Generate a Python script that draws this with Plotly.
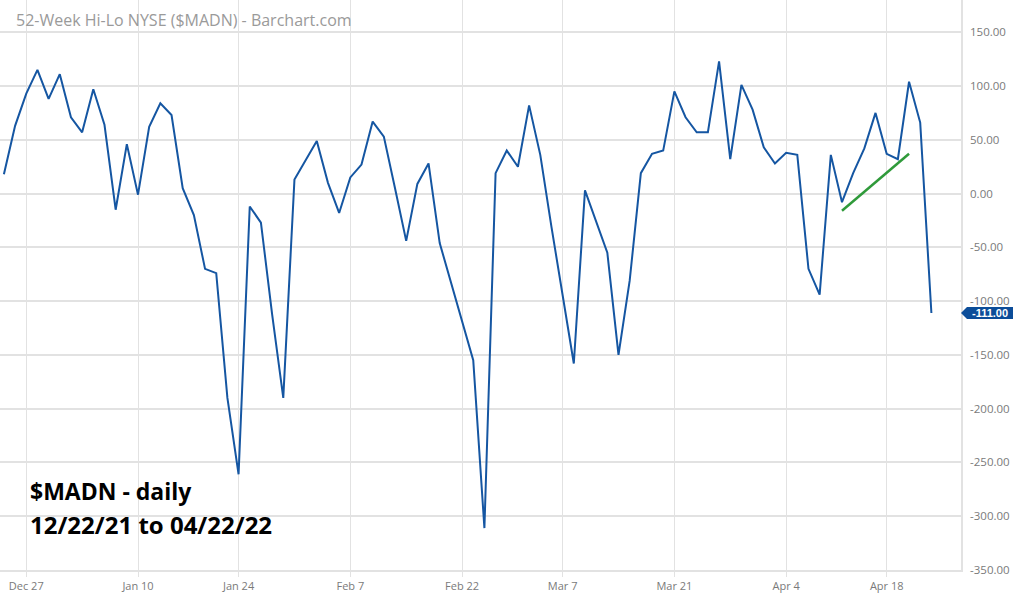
import plotly.graph_objects as go

# ---------------- data ----------------
dates = [
    "2021-12-22", "2021-12-23", "2021-12-27", "2021-12-28", "2021-12-29", "2021-12-30", "2021-12-31",
    "2022-01-03", "2022-01-04", "2022-01-05", "2022-01-06", "2022-01-07",
    "2022-01-10", "2022-01-11", "2022-01-12", "2022-01-13", "2022-01-14",
    "2022-01-18", "2022-01-19", "2022-01-20", "2022-01-21",
    "2022-01-24", "2022-01-25", "2022-01-26", "2022-01-27", "2022-01-28",
    "2022-01-31", "2022-02-01", "2022-02-02", "2022-02-03", "2022-02-04",
    "2022-02-07", "2022-02-08", "2022-02-09", "2022-02-10", "2022-02-11",
    "2022-02-14", "2022-02-15", "2022-02-16", "2022-02-17", "2022-02-18",
    "2022-02-22", "2022-02-23", "2022-02-24", "2022-02-25",
    "2022-02-28", "2022-03-01", "2022-03-02", "2022-03-03", "2022-03-04",
    "2022-03-07", "2022-03-08", "2022-03-09", "2022-03-10", "2022-03-11",
    "2022-03-14", "2022-03-15", "2022-03-16", "2022-03-17", "2022-03-18",
    "2022-03-21", "2022-03-22", "2022-03-23", "2022-03-24", "2022-03-25",
    "2022-03-28", "2022-03-29", "2022-03-30", "2022-03-31", "2022-04-01",
    "2022-04-04", "2022-04-05", "2022-04-06", "2022-04-07", "2022-04-08",
    "2022-04-11", "2022-04-12", "2022-04-13", "2022-04-14",
    "2022-04-18", "2022-04-19", "2022-04-20", "2022-04-21", "2022-04-22",
]
madn = [
    18, 63, 93, 115, 88, 111, 71,
    57, 97, 64, -15, 46,
    -1, 62, 84, 73, 5,
    -20, -70, -74, -190,
    -261, -12, -27, -112, -190,
    13, 31, 49, 10, -18,
    15, 27, 67, 53, 5,
    -44, 9, 28, -46, -83,
    -120, -155, -311, 19,
    40, 25, 82, 36, -31,
    -96, -158, 3, -26, -55,
    -150, -81, 19, 37, 40,
    95, 71, 57, 57, 123,
    32, 101, 78, 43, 28,
    38, 36, -70, -94, 36,
    -8, 19, 42, 75,
    37, 32, 104, 66, -111,
]
trend_dates = ["2022-04-11", "2022-04-20"]
trend_values = [-16, 37]

tick_dates = ["2021-12-27", "2022-01-10", "2022-01-24", "2022-02-07", "2022-02-22",
              "2022-03-07", "2022-03-21", "2022-04-04", "2022-04-18"]
tick_labels = ["Dec 27", "Jan 10", "Jan 24", "Feb 7", "Feb 22", "Mar 7", "Mar 21", "Apr 4", "Apr 18"]
y_ticks = [150, 100, 50, 0, -50, -100, -150, -200, -250, -300, -350]
last_value = madn[-1]

LINE = "#1556a2"
GRID = "#e2e2e2"
LABEL = "#7a7a7a"

fig = go.Figure()
fig.add_trace(go.Scatter(x=dates, y=madn, mode="lines",
                         line=dict(color=LINE, width=2), hoverinfo="skip", showlegend=False))
fig.add_trace(go.Scatter(x=trend_dates, y=trend_values, mode="lines",
                         line=dict(color="#2f9a3a", width=2.5), hoverinfo="skip", showlegend=False))

fig.update_layout(
    width=1024, height=595,
    margin=dict(l=0, r=63, t=0, b=25),
    paper_bgcolor="white", plot_bgcolor="white",
    font=dict(family="Open Sans", color=LABEL, size=11),
    showlegend=False,
    xaxis=dict(
        type="category", categoryorder="array", categoryarray=dates,
        range=[-0.35, 85.65],
        tickvals=tick_dates, ticktext=tick_labels,
        showgrid=True, gridcolor=GRID, gridwidth=1,
        ticks="outside", ticklen=5, tickcolor=GRID,
        showline=True, linecolor=GRID, linewidth=2,
        tickfont=dict(size=11, color=LABEL),
        zeroline=False,
    ),
    yaxis=dict(
        side="right", range=[-350, 180],
        tickvals=y_ticks, ticktext=[f"{v:.2f}" for v in y_ticks],
        showgrid=True, gridcolor=GRID, gridwidth=1.5,
        zeroline=False,
        showline=True, linecolor=GRID, linewidth=1.5,
        ticks="outside", ticklen=5, tickcolor="rgba(0,0,0,0)",
        tickfont=dict(size=11.5, color=LABEL),
    ),
)

# title text
fig.add_annotation(text="52-Week Hi-Lo NYSE ($MADN) - Barchart.com",
                   xref="paper", yref="paper", x=14 / 961, y=1 - 20 / 570,
                   xanchor="left", yanchor="middle", showarrow=False,
                   font=dict(family="Open Sans", size=16, color="#9a9a9a"))

# chart description
fig.add_annotation(text="<b>$MADN - daily</b>",
                   xref="paper", yref="paper", x=28 / 961, y=1 - 491 / 570,
                   xanchor="left", yanchor="middle", showarrow=False,
                   font=dict(family="Open Sans", size=23, color="black"))
fig.add_annotation(text="<b>12/22/21 to 04/22/22</b>",
                   xref="paper", yref="paper", x=28 / 961, y=1 - 524 / 570,
                   xanchor="left", yanchor="middle", showarrow=False,
                   font=dict(family="Open Sans", size=24, color="black"))

# last value marker on the axis
fig.add_shape(type="path", xref="paper", yref="y",
              xsizemode="pixel", ysizemode="pixel", xanchor=1, yanchor=last_value,
              path="M0,0 L6,6 L52,6 L52,-6 L6,-6 Z",
              fillcolor="#0c4d99", line=dict(width=0), layer="above")
fig.add_annotation(text=f"<b>{last_value:.2f}</b>", xref="paper", yref="y",
                   x=1, y=last_value, xanchor="center", yanchor="middle", xshift=29,
                   showarrow=False, font=dict(family="Liberation Sans", size=11, color="white"))

fig.write_html("out.html", config={"displayModeBar": False},
               post_script="document.body.style.margin='0';document.body.style.overflow='hidden';")
